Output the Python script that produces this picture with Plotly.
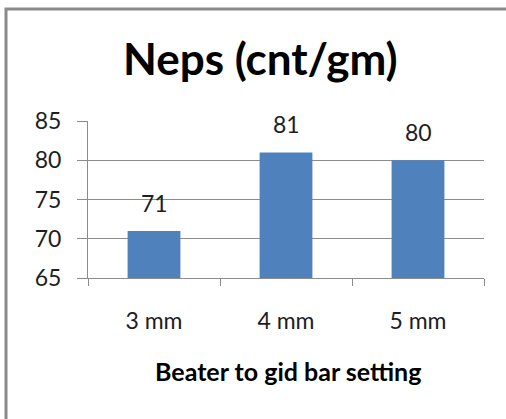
import plotly.graph_objects as go

# Data
categories = ["3 mm", "4 mm", "5 mm"]
neps = [71, 81, 80]
y_ticks = [65, 70, 75, 80, 85]

W, H = 506, 419
L, R, T, B = 88, 22, 121, 141  # plot area: x 88..484, y 121..278
PW, PH = W - L - R, H - T - B

FONT = "Lato"
BAR = "#4F81BD"
GRID = "#8C8C8C"
TXT = "#1e1e1e"


def px_x(x):
    return (x - L) / PW


def px_y(y):
    return (H - B - y) / PH


fig = go.Figure(
    go.Bar(
        x=categories,
        y=neps,
        marker=dict(color=BAR, line=dict(width=0)),
        width=0.4,
        hoverinfo="x+y",
    )
)

# value labels above bars
for c, v in zip(categories, neps):
    fig.add_annotation(
        x=c, y=v, text=str(v), showarrow=False, yanchor="middle", yshift=28,
        font=dict(family=FONT, size=23, color=TXT),
    )

# chart title
fig.add_annotation(
    xref="paper", yref="paper", x=px_x(260), y=px_y(58),
    text="<b>Neps (cnt/gm)</b>", showarrow=False, xanchor="center", yanchor="middle",
    font=dict(family=FONT, size=44, color="#000000"),
)

# x-axis title
fig.add_annotation(
    xref="paper", yref="paper", x=px_x(288), y=px_y(371),
    text="<b>Beater to gid bar setting</b>", showarrow=False, xanchor="center", yanchor="middle",
    font=dict(family=FONT, size=25, color="#000000"),
)

# outer frame; only its top and left edges fall inside the page
fig.add_shape(type="rect", xref="paper", yref="paper",
              x0=px_x(6), x1=px_x(W + 30), y0=px_y(9), y1=px_y(H + 30),
              line=dict(color="#8a8a8a", width=3), fillcolor="rgba(0,0,0,0)",
              layer="below")

fig.update_layout(
    width=W, height=H,
    margin=dict(l=L, r=R, t=T, b=B, pad=0),
    paper_bgcolor="white", plot_bgcolor="white",
    showlegend=False,
    bargap=0.6,
    font=dict(family=FONT, color=TXT),
)

fig.update_xaxes(
    showgrid=False, showline=True, linecolor=GRID, linewidth=1,
    ticks="outside", ticklen=7, tickcolor=GRID, tickson="boundaries",
    tickfont=dict(family=FONT, size=23, color=TXT),
    ticklabelstandoff=22,
)
fig.update_yaxes(
    range=[65, 85], tickvals=y_ticks, showgrid=True, gridcolor=GRID, gridwidth=1,
    showline=True, linecolor=GRID, linewidth=1, zeroline=False,
    ticks="outside", ticklen=10, tickcolor=GRID,
    tickfont=dict(family=FONT, size=23, color=TXT),
    ticklabelstandoff=11,
)

fig.write_html("out.html", config={"displayModeBar": False})
